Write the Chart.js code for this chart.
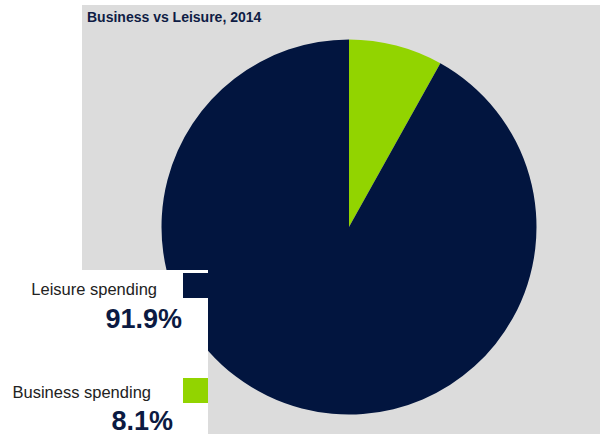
<!DOCTYPE html>
<html>
<head>
<meta charset="utf-8">
<script src="https://cdn.jsdelivr.net/npm/chart.js@4.4.1/dist/chart.umd.min.js"></script>
<style>
  html, body { margin: 0; padding: 0; background: #fff; }
  body { width: 600px; height: 434px; position: relative; overflow: hidden;
         font-family: "Liberation Sans", Arial, sans-serif; }
  #panel { position: absolute; left: 82px; top: 5px; width: 518px; height: 429px; background: #dcdcdc; }
  #title { position: absolute; left: 87px; top: 9px; font-size: 14px; font-weight: bold; color: #0f1c45; }
  #wrap { position: absolute; left: 0; top: 0; width: 600px; height: 434px; }
  #keybox { position: absolute; left: 0; top: 270px; width: 208px; height: 164px; background: #fff; }
  .lbl { position: absolute; font-size: 16.5px; color: #222; white-space: nowrap; line-height: 1; }
  .pct { position: absolute; font-size: 27px; font-weight: bold; color: #0b1a42; white-space: nowrap; line-height: 1; }
  .sw { position: absolute; width: 25px; height: 25px; }
</style>
</head>
<body>
<div id="panel"></div>
<div id="title">Business vs Leisure, 2014</div>
<div id="wrap"><canvas id="pie" width="600" height="434"></canvas></div>
<div id="keybox"></div>
<script>
// slices, clockwise from 12 o'clock
var categories = ["Business spending", "Leisure spending"];
var shares = [8.1, 91.9];
var colours = ["#92d400", "#02153f"];

// key rows, top to bottom (Leisure first), positions inside the white box
var keyRows = [
  { idx: 1, labelRight: 51, labelTop: 11, pctRight: 26, pctTop: 36, swTop: 3 },
  { idx: 0, labelRight: 57, labelTop: 114, pctRight: 35, pctTop: 138, swTop: 108 }
];

var box = document.getElementById('keybox');
keyRows.forEach(function(r) {
  var lbl = document.createElement('div');
  lbl.className = 'lbl';
  lbl.textContent = categories[r.idx];
  lbl.style.right = r.labelRight + 'px';
  lbl.style.top = r.labelTop + 'px';
  box.appendChild(lbl);

  var pct = document.createElement('div');
  pct.className = 'pct';
  pct.textContent = shares[r.idx].toFixed(1) + '%';
  pct.style.right = r.pctRight + 'px';
  pct.style.top = r.pctTop + 'px';
  box.appendChild(pct);

  var sw = document.createElement('div');
  sw.className = 'sw';
  sw.style.background = colours[r.idx];
  sw.style.right = '0px';
  sw.style.top = r.swTop + 'px';
  box.appendChild(sw);
});

new Chart(document.getElementById('pie').getContext('2d'), {
  type: 'pie',
  data: {
    labels: categories,
    datasets: [{
      data: shares,
      backgroundColor: colours,
      borderWidth: 0
    }]
  },
  options: {
    responsive: false,
    animation: false,
    layout: { padding: { left: 161.5, right: 63.5, top: 39.5, bottom: 19.5 } },
    plugins: {
      legend: { display: false },
      tooltip: { enabled: false }
    }
  }
});
</script>
</body>
</html>
